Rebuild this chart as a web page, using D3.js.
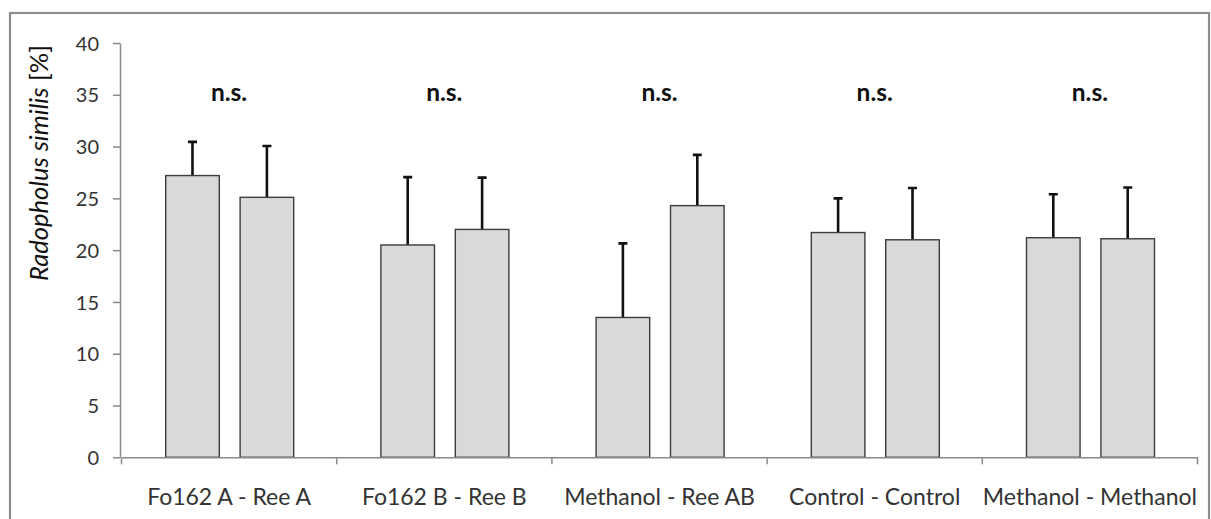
<!DOCTYPE html>
<html>
<head>
<meta charset="utf-8">
<script src="https://cdn.jsdelivr.net/npm/d3@7"></script>
<style>
  html, body { margin: 0; padding: 0; background: #fff; }
  svg { display: block; }
  .tick text { font-family: Lato, "Open Sans", sans-serif; fill: #333; }
</style>
</head>
<body>
<svg id="chart" width="1211" height="519"></svg>
<script>
const categories = ["Fo162 A - Ree A", "Fo162 B - Ree B", "Methanol - Ree AB", "Control - Control", "Methanol - Methanol"];
const firstValues = [27.2, 20.5, 13.5, 21.7, 21.2];
const secondValues = [25.1, 22.0, 24.3, 21.0, 21.1];
const firstErrors = [3.25, 6.55, 7.15, 3.3, 4.2];
const secondErrors = [4.95, 5.0, 4.9, 5.0, 4.95];
const significance = ["n.s.", "n.s.", "n.s.", "n.s.", "n.s."];
const yTicks = [0, 5, 10, 15, 20, 25, 30, 35, 40];

const svg = d3.select("#chart");

const plot = { left: 121.5, right: 1197.5, top: 43, bottom: 457.3 };
const axisColor = "#8a8a8a";

// outer chart frame (bottom edge is cut off in the picture)
svg.append("rect")
  .attr("x", 10)
  .attr("y", 13)
  .attr("width", 1199)
  .attr("height", 530)
  .attr("fill", "#fff")
  .attr("stroke", "#8c8c8c")
  .attr("stroke-width", 2.2);

const y = d3.scaleLinear().domain([0, 40]).range([plot.bottom, plot.top]);
const x0 = d3.scaleBand().domain(categories).range([plot.left, plot.right]);
const groupWidth = 128;
const x1 = d3.scaleBand()
  .domain([0, 1])
  .range([(x0.bandwidth() - groupWidth) / 2 + 0.6, (x0.bandwidth() + groupWidth) / 2 + 0.6])
  .paddingInner(0.28);

// y axis
const yAxis = svg.append("g")
  .attr("transform", `translate(120,0)`)
  .call(d3.axisLeft(y).tickValues(yTicks).tickSize(7).tickPadding(14).tickSizeOuter(0));
yAxis.select(".domain").attr("stroke", axisColor).attr("stroke-width", 1.5);
yAxis.selectAll(".tick line").attr("stroke", axisColor).attr("stroke-width", 1.5);
yAxis.selectAll(".tick text").attr("font-size", 20).attr("dy", "0.36em");

// y label
const yLabel = svg.append("text")
  .attr("transform", "translate(38,163) rotate(-90)")
  .attr("text-anchor", "middle")
  .attr("dominant-baseline", "central")
  .attr("font-family", "Lato, 'Open Sans', sans-serif")
  .attr("font-size", 25.5)
  .attr("fill", "#111");
yLabel.append("tspan").attr("font-style", "italic").text("Radopholus similis");
yLabel.append("tspan").text(" [%]");

// bars
const rows = categories.map((c, i) => ({
  category: c,
  values: [
    { k: 0, v: firstValues[i], e: firstErrors[i] },
    { k: 1, v: secondValues[i], e: secondErrors[i] },
  ],
}));

const groups = svg.append("g")
  .selectAll("g")
  .data(rows)
  .join("g")
  .attr("transform", (d) => `translate(${x0(d.category)},0)`);

// error bars (drawn first, bars cover the lower part)
groups.selectAll("path.err")
  .data((d) => d.values)
  .join("path")
  .attr("class", "err")
  .attr("d", (d) => {
    const cx = x1(d.k) + x1.bandwidth() / 2;
    const top = y(d.v + d.e);
    return `M${cx},${y(d.v)}V${top}M${cx - 4.5},${top}H${cx + 4.5}`;
  })
  .attr("fill", "none")
  .attr("stroke", "#111")
  .attr("stroke-width", 2.6);

groups.selectAll("rect")
  .data((d) => d.values)
  .join("rect")
  .attr("x", (d) => x1(d.k))
  .attr("y", (d) => y(d.v))
  .attr("width", x1.bandwidth())
  .attr("height", (d) => y(0) - y(d.v))
  .attr("fill", "#d9d9d9")
  .attr("stroke", "#3c3c3c")
  .attr("stroke-width", 1.4);

// x axis
const xAxis = svg.append("g")
  .attr("transform", `translate(0,${plot.bottom})`)
  .call(d3.axisBottom(x0).tickSize(0).tickPadding(48).tickSizeOuter(0));
xAxis.select(".domain").attr("stroke", axisColor).attr("stroke-width", 1.5);
xAxis.selectAll(".tick text").attr("font-size", 23).attr("dy", "0");

// boundary tick marks between categories
const boundaries = categories.map((c) => x0(c)).concat([x0.range()[1]]);
xAxis.append("g")
  .selectAll("line")
  .data(boundaries)
  .join("line")
  .attr("x1", (d) => d)
  .attr("x2", (d) => d)
  .attr("y1", 0)
  .attr("y2", 7)
  .attr("stroke", axisColor)
  .attr("stroke-width", 1.5);

// significance labels
svg.append("g")
  .selectAll("text")
  .data(significance)
  .join("text")
  .attr("x", (d, i) => x0(categories[i]) + x0.bandwidth() / 2)
  .attr("y", 100.7)
  .attr("text-anchor", "middle")
  .attr("font-family", "Lato, 'Open Sans', sans-serif")
  .attr("font-weight", "bold")
  .attr("font-size", 24.5)
  .attr("fill", "#111")
  .text((d) => d);
</script>
</body>
</html>
